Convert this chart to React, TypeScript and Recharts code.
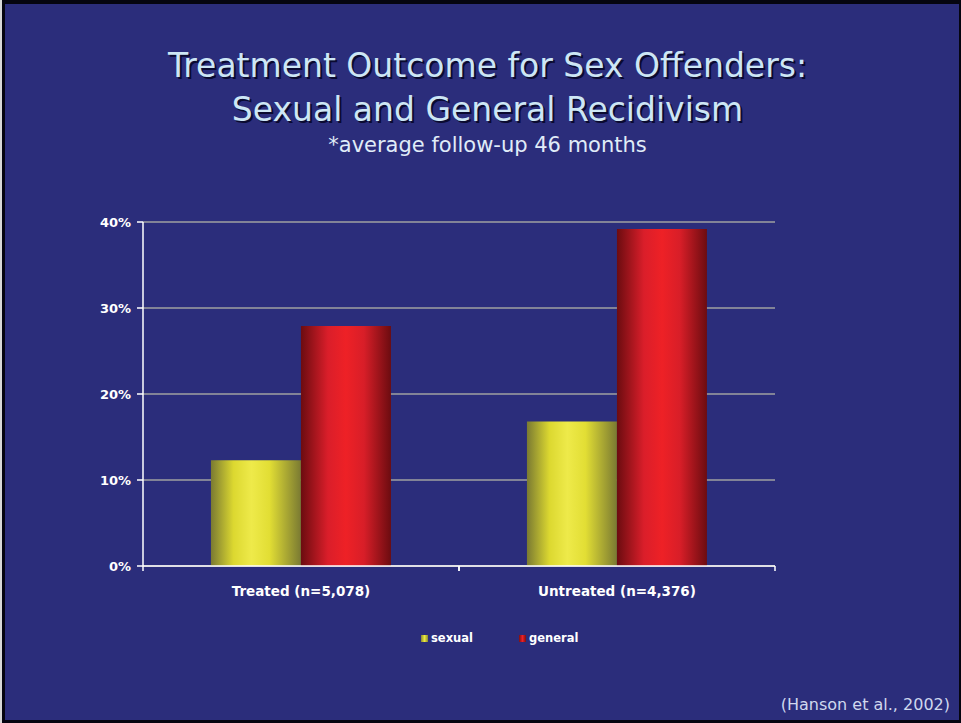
import { BarChart, Bar, XAxis, YAxis, CartesianGrid, Legend } from 'recharts';

const groups = ['Treated (n=5,078)', 'Untreated (n=4,376)'];
const sexual = [12.3, 16.8];
const general = [27.9, 39.2];
const yTicks = [0, 10, 20, 30, 40];

const data = groups.map((g, i) => ({ group: g, sexual: sexual[i], general: general[i] }));

const BG = '#2b2d7b';
const TITLE = '#cde6f5';
const FONT = '"DejaVu Sans", Verdana, sans-serif';

const CategoryTick = (props: any) => {
  const { x, y, payload } = props;
  const off = payload.offset || 0;
  return (
    <g>
      <line x1={x - off} y1={y - 20} x2={x - off} y2={y - 15} stroke="#fff" strokeWidth={1.5} />
      <line x1={x + off} y1={y - 20} x2={x + off} y2={y - 15} stroke="#fff" strokeWidth={1.5} />
      <text x={x} y={y + 10} textAnchor="middle" fill="#fff" fontFamily={FONT} fontWeight="bold" fontSize={13.5}>
        {payload.value}
      </text>
    </g>
  );
};

const LegendContent = () => (
  <div style={{ display: 'flex', gap: 46, fontFamily: FONT, fontWeight: 'bold', fontSize: 11.5, color: '#fff' }}>
    <span style={{ display: 'flex', alignItems: 'center' }}>
      <span style={{ width: 7, height: 7, background: 'linear-gradient(90deg,#8a8a30,#ecea40,#8a8a30)', marginRight: 3 }} />
      sexual
    </span>
    <span style={{ display: 'flex', alignItems: 'center' }}>
      <span style={{ width: 7, height: 7, background: 'linear-gradient(90deg,#7a1010,#ee2028,#7a1010)', marginRight: 3 }} />
      general
    </span>
  </div>
);

export default function App() {
  return (
    <div style={{ position: 'fixed', left: 0, top: 0, width: 961, height: 723, background: '#d8d8d8', overflow: 'hidden' }}>
      <div style={{ position: 'absolute', left: 2, top: 0, width: 959, height: 723, background: '#050510' }} />
      <div style={{ position: 'absolute', left: 5, top: 4, width: 954, height: 716, background: BG }} />
      <div style={{ position: 'absolute', left: 7, top: 44, width: 961, textAlign: 'center', fontFamily: FONT, color: TITLE, textShadow: '2px 2px 0 #0a0a30' }}>
        <div style={{ fontSize: 33, lineHeight: '44px' }}>Treatment Outcome for Sex Offenders:</div>
        <div style={{ fontSize: 33, lineHeight: '44px' }}>Sexual and General Recidivism</div>
        <div style={{ fontSize: 21, lineHeight: '26px', textShadow: 'none', color: '#e0ecf8' }}>*average follow-up 46 months</div>
      </div>
      <div style={{ position: 'absolute', left: 0, top: 0 }}>
        <BarChart
          width={961}
          height={723}
          data={data}
          margin={{ top: 222, right: 186, bottom: 113, left: 83 }}
          barCategoryGap="21.5%"
          barGap={0}
        >
          <defs>
            <linearGradient id="gYellow" x1="0" y1="0" x2="1" y2="0">
              <stop offset="0%" stopColor="#7a7a32" />
              <stop offset="25%" stopColor="#dcd830" />
              <stop offset="45%" stopColor="#eeea4a" />
              <stop offset="65%" stopColor="#e2de34" />
              <stop offset="100%" stopColor="#7a7a32" />
            </linearGradient>
            <linearGradient id="gRed" x1="0" y1="0" x2="1" y2="0">
              <stop offset="0%" stopColor="#6c0c10" />
              <stop offset="30%" stopColor="#da1e2a" />
              <stop offset="50%" stopColor="#ee2126" />
              <stop offset="70%" stopColor="#d81e28" />
              <stop offset="100%" stopColor="#6c0c10" />
            </linearGradient>
          </defs>
          <CartesianGrid vertical={false} stroke="#a0a0a0" strokeWidth={1.5} />
          <XAxis
            dataKey="group"
            axisLine={{ stroke: '#fff', strokeWidth: 1.5 }}
            tickLine={false}
            tick={<CategoryTick />}
            tickMargin={14}
            interval={0}
          />
          <YAxis
            width={60}
            domain={[0, 40]}
            ticks={yTicks}
            tickFormatter={(v) => `${v}%`}
            axisLine={{ stroke: '#fff', strokeWidth: 1.5 }}
            tickLine={{ stroke: '#fff', strokeWidth: 1.5 }}
            tickSize={6}
            tickMargin={6}
            tick={{ fill: '#fff', fontFamily: FONT, fontWeight: 'bold', fontSize: 13 }}
          />
          <Legend verticalAlign="bottom" wrapperStyle={{ top: 631, left: 421, width: 300 }} content={<LegendContent />} />
          <Bar dataKey="sexual" fill="url(#gYellow)" isAnimationActive={false} />
          <Bar dataKey="general" fill="url(#gRed)" isAnimationActive={false} />
        </BarChart>
      </div>
      <div style={{ position: 'absolute', right: 11, top: 695, fontFamily: FONT, fontSize: 16, color: '#d0d8ee' }}>
        (Hanson et al., 2002)
      </div>
    </div>
  );
}
